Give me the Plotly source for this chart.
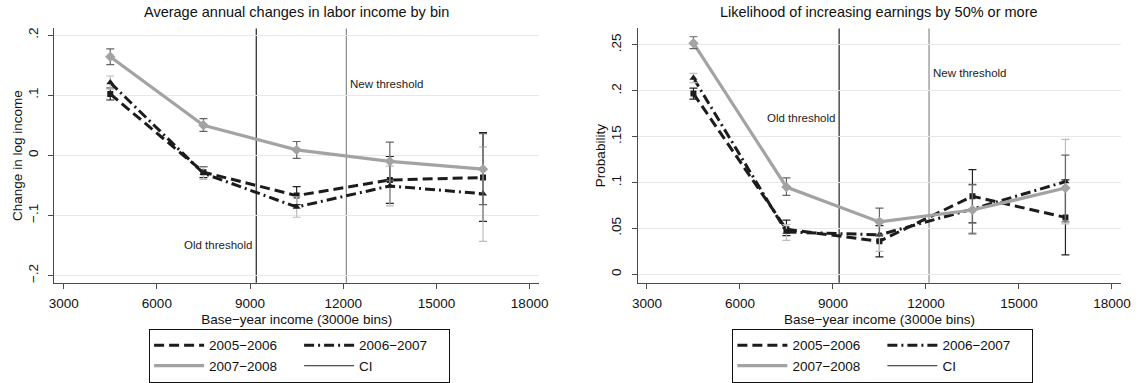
import plotly.graph_objects as go

# ---------------- data ----------------
bins = [4500, 7500, 10500, 13500, 16500]
old_threshold = 9200
new_threshold = 12100

series_names = ["2005\u22122006", "2006\u22122007", "2007\u22122008"]

# Left panel: change in log income
inc_0506 = [0.102, -0.028, -0.067, -0.041, -0.037]
inc_0506_lo = [0.092, -0.037, -0.082, -0.080, -0.110]
inc_0506_hi = [0.112, -0.019, -0.052, -0.002, 0.038]
inc_0607 = [0.121, -0.030, -0.086, -0.051, -0.064]
inc_0607_lo = [0.110, -0.040, -0.103, -0.084, -0.143]
inc_0607_hi = [0.132, -0.020, -0.069, -0.018, 0.014]
inc_0708 = [0.164, 0.050, 0.009, -0.010, -0.023]
inc_0708_lo = [0.151, 0.040, -0.005, -0.042, -0.082]
inc_0708_hi = [0.177, 0.061, 0.023, 0.022, 0.036]

# Right panel: probability of increasing earnings by 50%+
prob_0506 = [0.197, 0.049, 0.036, 0.085, 0.062]
prob_0506_lo = [0.191, 0.042, 0.019, 0.056, 0.021]
prob_0506_hi = [0.203, 0.059, 0.053, 0.114, 0.103]
prob_0607 = [0.214, 0.046, 0.043, 0.071, 0.101]
prob_0607_lo = [0.209, 0.037, 0.025, 0.045, 0.055]
prob_0607_hi = [0.219, 0.054, 0.060, 0.097, 0.147]
prob_0708 = [0.252, 0.095, 0.057, 0.070, 0.094]
prob_0708_lo = [0.246, 0.086, 0.043, 0.044, 0.057]
prob_0708_hi = [0.259, 0.105, 0.072, 0.098, 0.130]

x_ticks = [3000, 6000, 9000, 12000, 15000, 18000]
x_ticktext = ["3000", "6000", "9000", "12000", "15000", "18000"]
left_yticks = [-0.2, -0.1, 0, 0.1, 0.2]
left_yticktext = ["\u2212.2", "\u2212.1", "0", ".1", ".2"]
right_yticks = [0, 0.05, 0.1, 0.15, 0.2, 0.25]
right_yticktext = ["0", ".05", ".1", ".15", ".2", ".25"]

# ---------------- styles ----------------
FONT = "Liberation Sans, Arial, sans-serif"
line_styles = [
    dict(color="#1c1c1c", width=3, dash="10px,5px"),
    dict(color="#1c1c1c", width=3, dash="10px,4px,2px,4px"),
    dict(color="#a3a3a3", width=3.2, dash="solid"),
]
marker_styles = [
    dict(symbol="square", size=6, color="#1c1c1c"),
    dict(symbol="triangle-up", size=7, color="#1c1c1c"),
    dict(symbol="diamond", size=8, color="#a3a3a3"),
]
ci_colors = ["#222222", "#bdbdbd", "#666666"]
groups = ["a", "b", "a"]

fig = go.Figure()

panels = [
    dict(xa="x", ya="y", legend="legend",
         vals=[inc_0506, inc_0607, inc_0708],
         lo=[inc_0506_lo, inc_0607_lo, inc_0708_lo],
         hi=[inc_0506_hi, inc_0607_hi, inc_0708_hi]),
    dict(xa="x2", ya="y2", legend="legend2",
         vals=[prob_0506, prob_0607, prob_0708],
         lo=[prob_0506_lo, prob_0607_lo, prob_0708_lo],
         hi=[prob_0506_hi, prob_0607_hi, prob_0708_hi]),
]

for p in panels:
    # series lines (legend entries)
    for i in range(3):
        fig.add_trace(go.Scatter(
            x=bins, y=p["vals"][i], mode="lines", name=series_names[i],
            line=line_styles[i], xaxis=p["xa"], yaxis=p["ya"],
            legend=p["legend"], legendgroup=groups[i] + p["legend"],
            showlegend=True, hoverinfo="skip"))
    # markers with confidence intervals
    for i in range(3):
        err_plus = [h - v for h, v in zip(p["hi"][i], p["vals"][i])]
        err_minus = [v - l for l, v in zip(p["lo"][i], p["vals"][i])]
        fig.add_trace(go.Scatter(
            x=bins, y=p["vals"][i], mode="markers",
            marker=marker_styles[i], xaxis=p["xa"], yaxis=p["ya"],
            error_y=dict(type="data", array=err_plus, arrayminus=err_minus,
                         color=ci_colors[i], thickness=1.2, width=4),
            showlegend=False, legend=p["legend"], hoverinfo="skip"))
    # legend key for the CI
    fig.add_trace(go.Scatter(
        x=[None], y=[None], mode="lines", name="CI",
        line=dict(color="#222222", width=1),
        xaxis=p["xa"], yaxis=p["ya"], legend=p["legend"],
        legendgroup="b" + p["legend"], showlegend=True, hoverinfo="skip"))

x_range = [2700, 18300]
axis_common = dict(showline=True, linecolor="#4a4a4a", linewidth=1.2,
                   ticks="outside", ticklen=5, tickcolor="#4a4a4a",
                   tickfont=dict(family=FONT, size=13.5, color="#111"),
                   zeroline=False, mirror=False)

y_dom = [96 / 383, 355 / 383]
fig.update_layout(
    width=1148, height=383,
    margin=dict(l=0, r=0, t=0, b=0),
    paper_bgcolor="white", plot_bgcolor="white",
    font=dict(family=FONT, size=13.5, color="#111"),
    xaxis=dict(domain=[49 / 1148, 540 / 1148], range=x_range, tickvals=x_ticks,
               ticktext=x_ticktext, showgrid=False, anchor="y", ticklabelstandoff=3,
               title=dict(text="Base\u2212year income (3000e bins)", standoff=4,
                          font=dict(size=13.5)), **axis_common),
    yaxis=dict(domain=y_dom, range=[-0.212, 0.211], tickvals=left_yticks,
               ticktext=left_yticktext, tickangle=-90, showgrid=True,
               gridcolor="#e8e8e8", gridwidth=1, anchor="x", ticklabelstandoff=5,
               title=dict(text="Change in log income", standoff=0,
                          font=dict(size=13.5)), **axis_common),
    xaxis2=dict(domain=[640 / 1148, 1130 / 1148], range=x_range, tickvals=x_ticks,
                ticktext=x_ticktext, showgrid=False, anchor="y2", ticklabelstandoff=3,
                title=dict(text="Base\u2212year income (3000e bins)", standoff=4,
                           font=dict(size=13.5)), **axis_common),
    yaxis2=dict(domain=y_dom, range=[-0.0093, 0.268], tickvals=right_yticks,
                ticktext=right_yticktext, tickangle=-90, showgrid=True,
                gridcolor="#e8e8e8", gridwidth=1, anchor="x2", ticklabelstandoff=5,
                title=dict(text="Probability", standoff=0,
                           font=dict(size=13.5)), **axis_common),
    legend=dict(orientation="h", traceorder="grouped", x=145 / 1148, y=1 - 334 / 383,
                xanchor="left", yanchor="top", bordercolor="#111", borderwidth=1,
                bgcolor="white", font=dict(size=13.5), itemwidth=50,
                tracegroupgap=0, entrywidth=85),
    legend2=dict(orientation="h", traceorder="grouped", x=736 / 1148, y=1 - 334 / 383,
                 xanchor="left", yanchor="top", bordercolor="#111", borderwidth=1,
                 bgcolor="white", font=dict(size=13.5), itemwidth=50,
                 tracegroupgap=0, entrywidth=85),
    showlegend=True,
)

# panel titles
fig.add_annotation(text="Average annual changes in labor income by bin",
                   xref="x domain", yref="paper", x=0.5, y=1 - 11 / 383,
                   showarrow=False, font=dict(size=14.5), xanchor="center", yanchor="middle")
fig.add_annotation(text="Likelihood of increasing earnings by 50% or more",
                   xref="x2 domain", yref="paper", x=0.5, y=1 - 11 / 383,
                   showarrow=False, font=dict(size=14.5), xanchor="center", yanchor="middle")

# threshold lines
for xa, ya in [("x", "y"), ("x2", "y2")]:
    fig.add_shape(type="line", xref=xa, yref=ya + " domain", x0=old_threshold, x1=old_threshold,
                  y0=0, y1=1, line=dict(color="#222222", width=1.2), layer="below")
    fig.add_shape(type="line", xref=xa, yref=ya + " domain", x0=new_threshold, x1=new_threshold,
                  y0=0, y1=1, line=dict(color="#8a8a8a", width=1.2), layer="below")

# threshold labels
label_pos = [("x", "y", -0.149, 0.119), ("x2", "y2", 0.170, 0.219)]
for xa, ya, y_old, y_new in label_pos:
    fig.add_annotation(text="Old threshold", xref=xa, yref=ya, x=old_threshold, y=y_old,
                       xanchor="right", yanchor="middle", xshift=-2, showarrow=False,
                       font=dict(size=11.5, color="#222"))
    fig.add_annotation(text="New threshold", xref=xa, yref=ya, x=new_threshold, y=y_new,
                       xanchor="left", yanchor="middle", xshift=2, showarrow=False,
                       font=dict(size=11.5, color="#222"))

fig.write_html("out.html")
